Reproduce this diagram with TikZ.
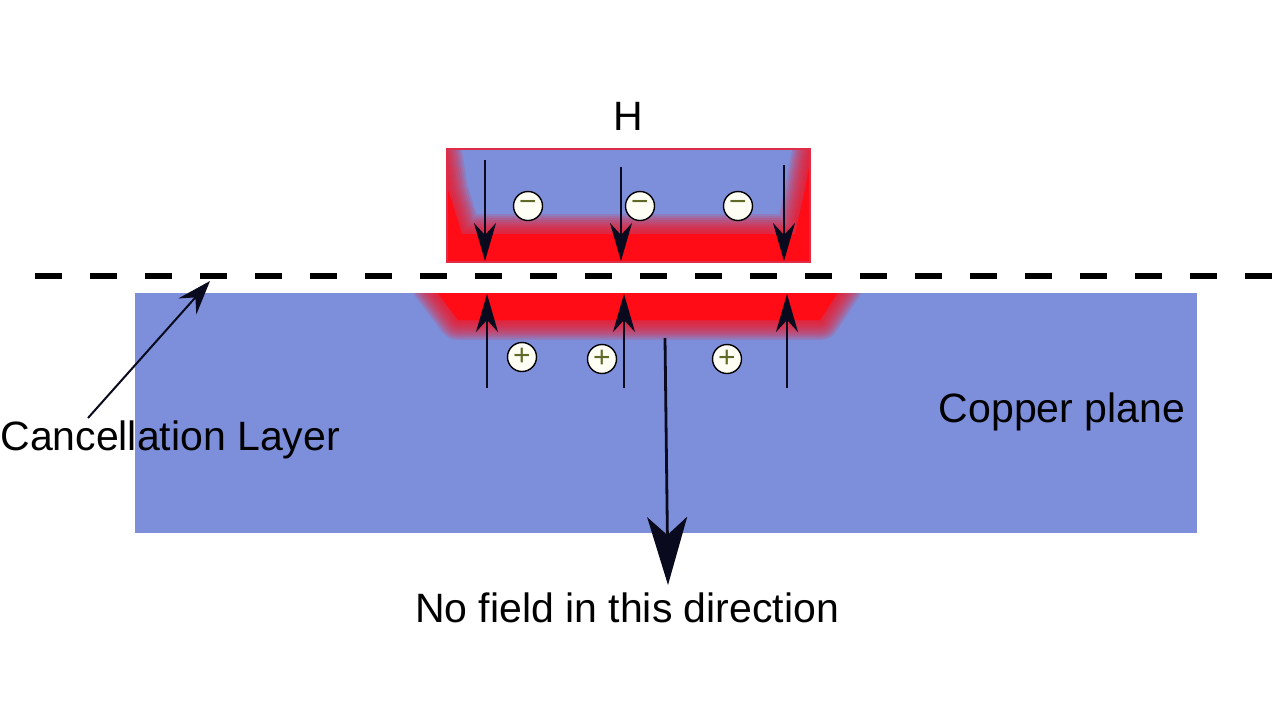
\documentclass[tikz,border=0pt]{standalone}
\usepackage{fontspec}
\setmainfont{Liberation Sans}
\usetikzlibrary{arrows.meta}
\definecolor{cu}{RGB}{125,143,219}
\definecolor{hot}{RGB}{255,12,22}
\definecolor{signc}{RGB}{95,105,40}
\definecolor{ink}{RGB}{10,10,30}
\begin{document}
\begin{tikzpicture}[x=0.5pt,y=-0.5pt,
  lbl/.style={font=\fontsize{20.5}{24}\selectfont, text=black, inner sep=0},
  field/.style={draw=ink, line width=1pt, -{Stealth[length=19pt,width=11pt,inset=6pt]}},
  bigfield/.style={draw=ink, line width=1.4pt, -{Stealth[length=34pt,width=20pt,inset=9pt]}},
  charge/.style={circle, draw=black, line width=0.7pt, fill=white!96!yellow, minimum size=14.5pt, inner sep=0,
                 text=signc, font=\fontsize{15}{15}\selectfont},
  botcore/.style={insert path={(428,280)--(846,280)--(820,320)--(458,320)--cycle}},
  topcore/.style={insert path={(430,140)--(440,140)--(448,190)--(462,234)--(795,234)--(805,190)--(814,140)--(830,140)--(830,275)--(430,275)--cycle}},
  glow/.style={hot, line join=round, opacity=0.14}
]
\useasboundingbox (0,0) rectangle (1280,719);
\fill[white] (0,0) rectangle (1280,719);

% copper plane
\fill[cu] (135,293) rectangle (1197,533);
\begin{scope}
  \clip (135,293) rectangle (1197,533);
  \fill[hot, botcore];
  \foreach \w in {2,4,...,20} {
    \draw[glow, line width=\w pt, botcore];
  }
\end{scope}

% strip
\fill[cu] (447,149) rectangle (810,262);
\begin{scope}
  \clip (447,149) rectangle (810,262);
  \fill[hot, topcore];
  \foreach \w in {2,4,...,20} {
    \draw[glow, line width=\w pt, topcore];
  }
\end{scope}
\draw[hot!75!cu, line width=1pt] (447,149) rectangle (810,262);

% cancellation layer
\coordinate (dl) at (35,276);
\coordinate (dr) at (1280,276);
\draw[black, line width=2.6pt, dash pattern=on 13.5pt off 14pt] (dl) -- (dr);

% field arrows in strip
\coordinate (d1s) at (485,160); \coordinate (d1e) at (485,261);
\coordinate (d2s) at (621,167); \coordinate (d2e) at (621,261);
\coordinate (d3s) at (784,165); \coordinate (d3e) at (784,261);
\draw[field] (d1s) -- (d1e);
\draw[field] (d2s) -- (d2e);
\draw[field] (d3s) -- (d3e);

% field arrows in plane
\coordinate (u1s) at (487,388); \coordinate (u1e) at (487,294);
\coordinate (u2s) at (624,388); \coordinate (u2e) at (624,294);
\coordinate (u3s) at (787,388); \coordinate (u3e) at (787,294);
\draw[field] (u1s) -- (u1e);
\draw[field] (u2s) -- (u2e);
\draw[field] (u3s) -- (u3e);

% charges
\node[charge] (m1) at (528,206) {−};
\node[charge] (m2) at (640,206) {−};
\node[charge] (m3) at (738,206) {−};
\node[charge] (p1) at (522,357) {+};
\node[charge] (p2) at (602,359) {+};
\node[charge] (p3) at (727,359) {+};

% labels
\node[lbl] (H) at (628,116) {H};
\node[lbl, anchor=west] (cl) at (0,440) {Cancellation Layer};
\node[lbl] (cp) at (1062,412) {Copper plane};
\node[lbl] (nf) at (627,608) {No field in this direction};

% pointer to cancellation layer
\coordinate (ct) at (210,281);
\coordinate (cs) at (88,418);
\draw[ink, line width=1pt, -{Stealth[length=17pt,width=12pt,inset=6pt]}] (cs) -- (ct);

% no-field arrow
\coordinate (nfs) at (665,338);
\coordinate (nfe) at (668,585);
\draw[bigfield] (nfs) -- (nfe);
\end{tikzpicture}
\end{document}
